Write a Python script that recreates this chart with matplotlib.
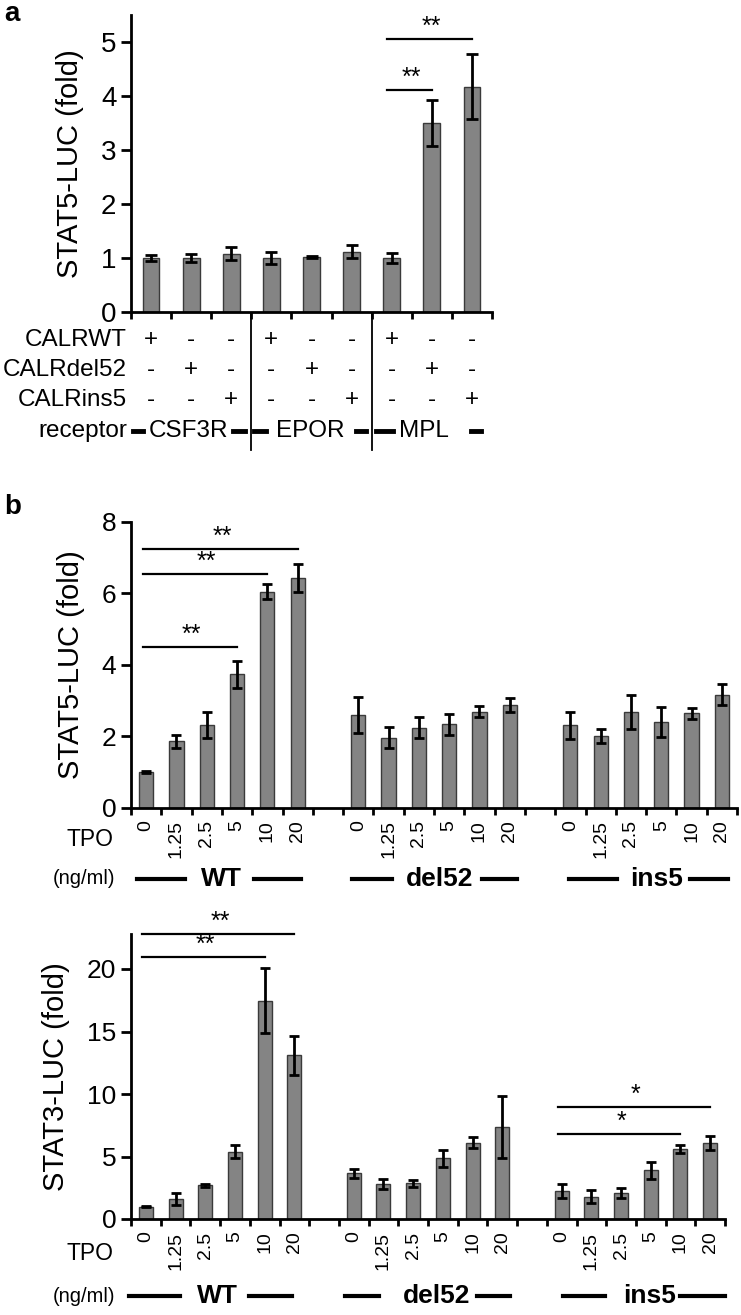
import matplotlib
matplotlib.use("Agg")
import matplotlib.pyplot as plt
from matplotlib.transforms import blended_transform_factory
from matplotlib.lines import Line2D

plt.rcParams['font.family'] = ['Liberation Sans', 'DejaVu Sans']

# ---- panel a data ----
a_values = [1.0, 1.0, 1.08, 1.0, 1.02, 1.12, 1.0, 3.5, 4.17]
a_errors = [0.05, 0.07, 0.12, 0.12, 0.02, 0.12, 0.1, 0.42, 0.6]
calr_wt = ['+', '-', '-', '+', '-', '-', '+', '-', '-']
calr_del52 = ['-', '+', '-', '-', '+', '-', '-', '+', '-']
calr_ins5 = ['-', '-', '+', '-', '-', '+', '-', '-', '+']
row_names = ['CALRWT', 'CALRdel52', 'CALRins5']
receptors = ['CSF3R', 'EPOR', 'MPL']

# ---- panel b data ----
tpo_doses = ['0', '1.25', '2.5', '5', '10', '20']
groups = ['WT', 'del52', 'ins5']
stat5_wt = [1.0, 1.85, 2.31, 3.73, 6.05, 6.43]
stat5_wt_err = [0.02, 0.18, 0.37, 0.38, 0.2, 0.4]
stat5_del52 = [2.59, 1.96, 2.24, 2.33, 2.69, 2.87]
stat5_del52_err = [0.5, 0.3, 0.3, 0.3, 0.15, 0.2]
stat5_ins5 = [2.3, 2.0, 2.67, 2.39, 2.64, 3.16]
stat5_ins5_err = [0.38, 0.2, 0.48, 0.42, 0.15, 0.3]
stat3_wt = [1.0, 1.6, 2.7, 5.4, 17.45, 13.1]
stat3_wt_err = [0.05, 0.45, 0.1, 0.5, 2.6, 1.55]
stat3_del52 = [3.65, 2.8, 2.85, 4.85, 6.1, 7.35]
stat3_del52_err = [0.35, 0.4, 0.3, 0.7, 0.45, 2.5]
stat3_ins5 = [2.27, 1.8, 2.1, 3.9, 5.6, 6.1]
stat3_ins5_err = [0.55, 0.5, 0.4, 0.7, 0.35, 0.55]

# significance brackets: (from bar, to bar, stars, height)
a_sig = [(6, 7, '**', 4.12), (6, 8, '**', 5.05)]
stat5_sig = [(0, 3, '**', 4.51), (0, 4, '**', 6.54), (0, 5, '**', 7.25)]
stat3_sig = [(0, 4, '**', 21.0), (0, 5, '**', 22.78), (14, 18, '*', 6.8), (14, 19, '*', 9.0)]

W, H = 741, 1315
BAR = '#848484'
EDGE = '#3a3a3a'


def box(l, t, r, b):
    return [l / W, 1 - b / H, (r - l) / W, (b - t) / H]


def fy(px):
    return 1 - px / H


def style_axes(ax):
    for s in ['top', 'right']:
        ax.spines[s].set_visible(False)
    for s in ['left', 'bottom']:
        ax.spines[s].set_linewidth(2)
    ax.tick_params(axis='y', which='major', width=2, length=7, direction='out')
    ax.tick_params(axis='x', which='major', width=2, length=5, direction='out')


def draw_sig(ax, sigs, fs):
    for i, j, stars, h in sigs:
        ax.plot([i - 0.12, j], [h, h], color='black', lw=1.6, clip_on=False)
        ax.text((i + j) / 2, h, stars, ha='center', va='bottom', fontsize=fs)


fig = plt.figure(figsize=(W / 100, H / 100), dpi=100)

# ================= panel a =================
ax = fig.add_axes(box(131, 15, 492, 312))
style_axes(ax)
xa = list(range(len(a_values)))
ax.bar(xa, a_values, width=0.42, color=BAR, edgecolor=EDGE, linewidth=1)
ax.errorbar(xa, a_values, yerr=a_errors, fmt='none', ecolor='black', elinewidth=2,
            capsize=4, capthick=2)
ax.set_xlim(-0.5, 8.5)
ax.set_ylim(0, 5.5)
ax.set_yticks([0, 1, 2, 3, 4, 5])
ax.set_xticks([k - 0.5 for k in range(10)])
ax.set_xticklabels([])
ax.tick_params(axis='y', labelsize=20)
ax.set_ylabel('STAT5-LUC (fold)', fontsize=21, labelpad=12)
draw_sig(ax, a_sig, 18)

tr = blended_transform_factory(ax.transData, fig.transFigure)
rows = [calr_wt, calr_del52, calr_ins5]
row_y = [340, 370, 400]
for name, signs, y in zip(row_names, rows, row_y):
    fig.text(127 / W, fy(y), name, ha='right', va='center', fontsize=17.5)
    for k, s in enumerate(signs):
        ax.text(k, fy(y), s, transform=tr, ha='center', va='center', fontsize=17.5)
fig.text(127 / W, fy(431), 'receptor', ha='right', va='center', fontsize=17.5)
rec_text_x = [0.93, 3.97, 6.8]
rec_dashes = [[(-0.45, -0.2), (2.05, 2.35)], [(2.57, 2.87), (5.1, 5.35)], [(5.6, 6.03), (7.98, 8.23)]]
for name, tx, dashes in zip(receptors, rec_text_x, rec_dashes):
    ax.text(tx, fy(431), name, transform=tr, ha='center', va='center', fontsize=17.5)
    for x0, x1 in dashes:
        ax.add_line(Line2D([x0, x1], [fy(431), fy(431)], transform=tr, color='black',
                           lw=3.5, clip_on=False))
for xs in [2.5, 5.5]:
    ax.add_line(Line2D([xs, xs], [fy(313), fy(450)], transform=tr, color='black',
                       lw=1.3, clip_on=False))
fig.text(4 / W, fy(14), 'a', fontsize=20, fontweight='bold', va='center')
fig.text(4 / W, fy(507), 'b', fontsize=20, fontweight='bold', va='center')


# ================= panel b =================
def panel_b(rect, data, errs, ylim, yticks, ylabel, sigs, tpo_y, ng_y, label_pos):
    ax = fig.add_axes(rect)
    style_axes(ax)
    xs_all, labels = [], []
    for g, (vals, err) in enumerate(zip(data, errs)):
        xs = [g * 7 + k for k in range(len(vals))]
        ax.bar(xs, vals, width=0.47, color=BAR, edgecolor=EDGE, linewidth=1)
        ax.errorbar(xs, vals, yerr=err, fmt='none', ecolor='black', elinewidth=2,
                    capsize=3.5, capthick=2)
        xs_all += xs
        labels += tpo_doses
    ax.set_xlim(-0.5, 19.5)
    ax.set_ylim(*ylim)
    ax.set_yticks(yticks)
    ax.tick_params(axis='y', labelsize=19)
    ax.set_xticks([k - 0.5 for k in range(21)])
    ax.set_xticklabels([])
    ax.set_xticks(xs_all, minor=True)
    ax.set_xticklabels(labels, minor=True, rotation=90, fontsize=14)
    ax.tick_params(axis='x', which='minor', length=0, pad=9)
    ax.set_ylabel(ylabel, fontsize=21, labelpad=12)
    draw_sig(ax, sigs, 18)
    fig.text(90 / W, fy(tpo_y), 'TPO', ha='center', va='center', fontsize=16.5)
    fig.text(84 / W, fy(ng_y), '(ng/ml)', ha='center', va='center', fontsize=14.5,
             family=['Liberation Sans Narrow', 'Liberation Sans'])
    tr = blended_transform_factory(ax.transData, fig.transFigure)
    for name, (l0, l1, tx, r0, r1) in zip(groups, label_pos):
        ax.text(tx, fy(ng_y), name, transform=tr, ha='center', va='center', fontsize=19,
                fontweight='bold', family=['Liberation Sans Narrow', 'Liberation Sans'])
        for x0, x1 in [(l0, l1), (r0, r1)]:
            ax.add_line(Line2D([x0, x1], [fy(ng_y), fy(ng_y)], transform=tr,
                               color='black', lw=3, clip_on=False))
    return ax


panel_b(box(131, 522, 737, 807.5),
        [stat5_wt, stat5_del52, stat5_ins5],
        [stat5_wt_err, stat5_del52_err, stat5_ins5_err],
        (0, 8), [0, 2, 4, 6, 8], 'STAT5-LUC (fold)', stat5_sig, 840, 879,
        [(-0.31, 1.27, 2.49, 3.55, 5.1), (6.81, 8.1, 9.69, 11.1, 12.23),
         (13.94, 15.53, 16.85, 17.94, 19.19)])

panel_b(box(131, 934, 725, 1219),
        [stat3_wt, stat3_del52, stat3_ins5],
        [stat3_wt_err, stat3_del52_err, stat3_ins5_err],
        (0, 22.8), [0, 5, 10, 15, 20], 'STAT3-LUC (fold)', stat3_sig, 1254, 1296,
        [(-0.58, 1.16, 2.41, 3.46, 4.91), (6.7, 7.85, 9.78, 11.15, 12.25),
         (14.03, 15.45, 16.97, 17.98, 19.5)])

fig.savefig('out.png', dpi=100)
